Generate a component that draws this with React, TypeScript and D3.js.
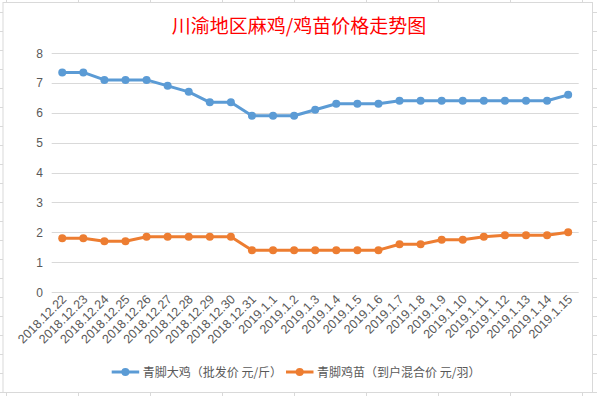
import React from "react";
import * as d3 from "d3";

const categories = [
  "2018.12.22", "2018.12.23", "2018.12.24", "2018.12.25", "2018.12.26",
  "2018.12.27", "2018.12.28", "2018.12.29", "2018.12.30", "2018.12.31",
  "2019.1.1", "2019.1.2", "2019.1.3", "2019.1.4", "2019.1.5", "2019.1.6",
  "2019.1.7", "2019.1.8", "2019.1.9", "2019.1.10", "2019.1.11", "2019.1.12",
  "2019.1.13", "2019.1.14", "2019.1.15",
];
const bigChicken = [
  7.35, 7.35, 7.1, 7.1, 7.1, 6.9, 6.7, 6.35, 6.35, 5.9, 5.9, 5.9, 6.1,
  6.3, 6.3, 6.3, 6.4, 6.4, 6.4, 6.4, 6.4, 6.4, 6.4, 6.4, 6.6,
];
const chicks = [
  1.8, 1.8, 1.7, 1.7, 1.85, 1.85, 1.85, 1.85, 1.85, 1.4, 1.4, 1.4, 1.4,
  1.4, 1.4, 1.4, 1.6, 1.6, 1.75, 1.75, 1.85, 1.9, 1.9, 1.9, 2.0,
];
const yTicks = [0, 1, 2, 3, 4, 5, 6, 7, 8];
const seriesNames = ["青脚大鸡（批发价 元/斤）", "青脚鸡苗（到户混合价 元/羽）"];
const seriesColors = ["#5B9BD5", "#ED7D31"];
const title = "川渝地区麻鸡/鸡苗价格走势图";

const W = 597;
const H = 396;
const FONT = "'Noto Sans CJK SC', 'Liberation Sans', sans-serif";

export default function App() {
  const x = d3.scaleBand<string>().domain(categories).range([51.7, 578.7]);
  const y = d3.scaleLinear().domain([0, 8]).range([292, 53]);
  const cx = (c: string) => (x(c) as number) + x.bandwidth() / 2;
  const line = d3
    .line<number>()
    .x((_, i) => cx(categories[i]))
    .y((v) => y(v));

  const series = [bigChicken, chicks];

  const rows = d3.range(12.5, H, 19);
  const cols = d3.range(6.5, W, 72);

  return (
    <svg
      width={W}
      height={H}
      style={{ position: "fixed", left: 0, top: 0, background: "#fff" }}
      fontFamily={FONT}
    >
      {rows.map((r) => (
        <line key={"r" + r} x1={0} x2={W} y1={r} y2={r} stroke="#d9d9d9" strokeWidth={1} />
      ))}
      {cols.map((c) => (
        <line key={"c" + c} x1={c} x2={c} y1={0} y2={H} stroke="#d9d9d9" strokeWidth={1} />
      ))}
      <rect x={3} y={2.5} width={589.5} height={390} fill="#fff" stroke="#d9d9d9" strokeWidth={1} />

      <text x={299} y={33} textAnchor="middle" fill="#ff0000" fontSize={19}>
        {title}
      </text>

      {yTicks.map((t) => (
        <g key={t}>
          <line x1={51.7} x2={578.7} y1={Math.round(y(t)) + 0.5} y2={Math.round(y(t)) + 0.5} stroke="#d9d9d9" strokeWidth={1} />
          <text x={43} y={y(t) + 4.5} textAnchor="end" fill="#595959" fontSize={12} fontFamily="'Liberation Sans', sans-serif">
            {t}
          </text>
        </g>
      ))}

      {categories.map((c) => (
        <text
          key={c}
          transform={`translate(${cx(c) + 5},${300}) rotate(-45)`}
          textAnchor="end"
          fill="#595959"
          fontSize={12.5}
          fontFamily="'Liberation Sans', sans-serif"
        >
          {c}
        </text>
      ))}

      {series.map((s, si) => (
        <g key={si}>
          <path d={line(s) || ""} fill="none" stroke={seriesColors[si]} strokeWidth={3} strokeLinejoin="round" />
          {s.map((v, i) => (
            <circle key={i} cx={cx(categories[i])} cy={y(v)} r={4} fill={seriesColors[si]} />
          ))}
        </g>
      ))}

      {[
        { x0: 111.7, tx: 142.7 },
        { x0: 286, tx: 317 },
      ].map((l, i) => (
        <g key={i}>
          <line x1={l.x0} x2={l.x0 + 27.5} y1={372} y2={372} stroke={seriesColors[i]} strokeWidth={3} />
          <circle cx={l.x0 + 13.7} cy={372} r={4} fill={seriesColors[i]} />
          <text x={l.tx} y={376.5} fill="#595959" fontSize={12}>
            {seriesNames[i]}
          </text>
        </g>
      ))}
    </svg>
  );
}
